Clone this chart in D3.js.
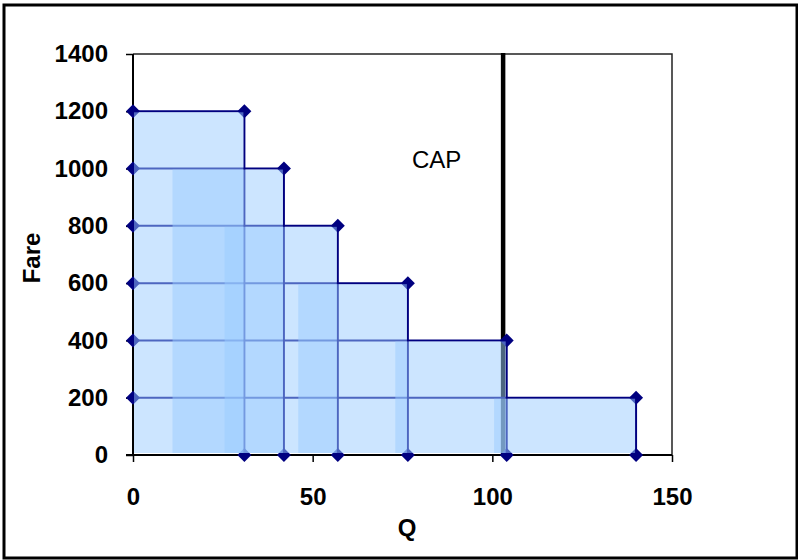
<!DOCTYPE html>
<html>
<head>
<meta charset="utf-8">
<script src="https://cdn.jsdelivr.net/npm/d3@7"></script>
<style>
  body { margin: 0; background: #fff; }
  svg { display: block; font-family: "Liberation Sans", Arial, sans-serif; }
  .axis text { font-size: 24px; font-weight: bold; fill: #000; }
</style>
</head>
<body>
<svg></svg>
<script>
// fare levels and the quantity at each one
const FARES = [1200, 1000, 800, 600, 400, 200];
const QUANTITIES = [31, 42, 57, 76.5, 104, 140];
// where each shaded block starts on the Q axis (they are drawn a bit off)
const FILL_START = [0, 11, 25.5, 46, 73, 100.5];
const CAP = 103;

const X_TICKS = [0, 50, 100, 150];
const Y_TICKS = [0, 200, 400, 600, 800, 1000, 1200, 1400];

const WIDTH = 798;
const HEIGHT = 560;
const PLOT = {left: 133, right: 672, top: 54, bottom: 455};

const svg = d3.select('svg')
.attr('width', WIDTH)
.attr('height', HEIGHT);

//scales
const xScale = d3.scaleLinear().domain([0, 150]).range([PLOT.left, PLOT.right]);
const yScale = d3.scaleLinear().domain([0, 1400]).range([PLOT.bottom, PLOT.top]);

//outer frame
svg.append('rect')
.attr('x', 4).attr('y', 5)
.attr('width', 793).attr('height', 553)
.attr('fill', 'none')
.attr('stroke', '#000')
.attr('stroke-width', 3);

//plot frame (top and right)
svg.append('path')
.attr('d', `M${PLOT.left},${PLOT.top}H${PLOT.right}V${PLOT.bottom}`)
.attr('fill', 'none')
.attr('stroke', '#222')
.attr('stroke-width', 1.5);

//axes
svg.append('g')
.attr('class', 'axis')
.attr('transform', `translate(${PLOT.left},0)`)
.call(d3.axisLeft(yScale).tickValues(Y_TICKS).tickSize(7).tickPadding(18).tickFormat(d3.format('d')));

svg.append('g')
.attr('class', 'axis')
.attr('transform', `translate(0,${PLOT.bottom})`)
.call(d3.axisBottom(xScale).tickValues(X_TICKS).tickSize(7).tickPadding(26).tickFormat(d3.format('d')));

svg.selectAll('.axis .domain').remove();
svg.selectAll('.axis .tick line').attr('stroke', '#000').attr('stroke-width', 1.5);

//axis lines
svg.append('line')
.attr('x1', PLOT.left).attr('x2', PLOT.left)
.attr('y1', PLOT.top).attr('y2', PLOT.bottom)
.attr('stroke', '#000').attr('stroke-width', 2);
svg.append('line')
.attr('x1', PLOT.left - 7).attr('x2', PLOT.right)
.attr('y1', PLOT.bottom).attr('y2', PLOT.bottom)
.attr('stroke', '#000').attr('stroke-width', 2);

//cap line
svg.append('line')
.attr('x1', xScale(CAP)).attr('x2', xScale(CAP))
.attr('y1', PLOT.top - 1).attr('y2', PLOT.bottom)
.attr('stroke', '#000')
.attr('stroke-width', 4.5);

svg.append('text')
.text('CAP')
.attr('x', 412)
.attr('y', 168)
.attr('font-size', 24)
.attr('fill', '#000');

//series lines
const steps = FARES.map((f, i) => ({fare: f, q: QUANTITIES[i], start: FILL_START[i]}));

svg.selectAll('.step')
.data(steps)
.enter()
.append('path')
.attr('class', 'step')
.attr('d', d => d3.line()([[xScale(0), yScale(d.fare)], [xScale(d.q), yScale(d.fare)], [xScale(d.q), yScale(0)]]))
.attr('fill', 'none')
.attr('stroke', '#000080')
.attr('stroke-width', 2);

//markers
const points = steps.flatMap(d => [[0, d.fare], [d.q, d.fare], [d.q, 0]]);
svg.selectAll('.marker')
.data(points)
.enter()
.append('path')
.attr('class', 'marker')
.attr('d', d3.symbol().type(d3.symbolDiamond2).size(125))
.attr('transform', d => `translate(${xScale(d[0])},${yScale(d[1])})`)
.attr('fill', '#000080');

//shaded blocks, drawn over everything like in the sheet
svg.selectAll('.block')
.data(steps)
.enter()
.append('rect')
.attr('class', 'block')
.attr('x', d => xScale(d.start) + (d.start === 0 ? 1 : 0))
.attr('y', d => yScale(d.fare) + 1)
.attr('width', d => xScale(d.q) - xScale(d.start) - (d.start === 0 ? 2 : 1))
.attr('height', d => yScale(0) - yScale(d.fare) - 3)
.attr('fill', '#99ccff')
.attr('fill-opacity', 0.5);

//axis titles
svg.append('text')
.text('Q')
.attr('x', 407)
.attr('y', 536)
.attr('text-anchor', 'middle')
.attr('font-size', 24)
.attr('font-weight', 'bold');

svg.append('text')
.text('Fare')
.attr('transform', 'translate(40,258) rotate(-90)')
.attr('text-anchor', 'middle')
.attr('font-size', 24)
.attr('font-weight', 'bold');
</script>
</body>
</html>
